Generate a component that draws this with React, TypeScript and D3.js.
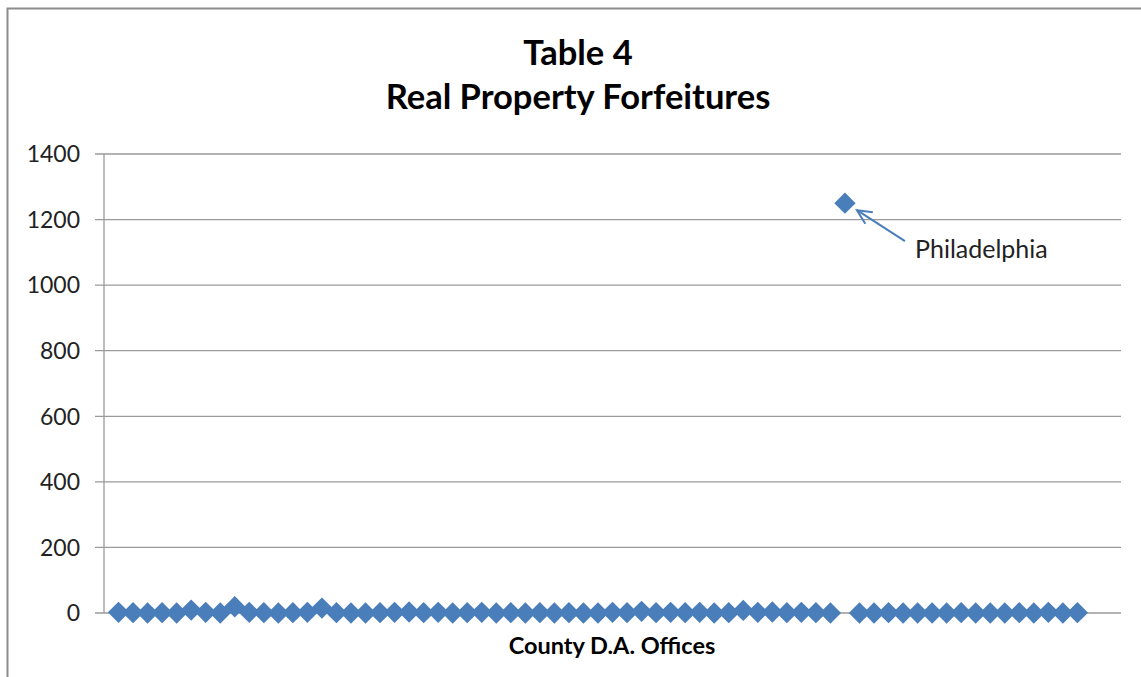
import React from 'react';
import * as d3 from 'd3';

// PA counties (x = 1..67), real property forfeitures per county D.A. office
const counties = [
  'Adams', 'Allegheny', 'Armstrong', 'Beaver', 'Bedford', 'Berks', 'Blair', 'Bradford', 'Bucks', 'Butler',
  'Cambria', 'Cameron', 'Carbon', 'Centre', 'Chester', 'Clarion', 'Clearfield', 'Clinton', 'Columbia', 'Crawford',
  'Cumberland', 'Dauphin', 'Delaware', 'Elk', 'Erie', 'Fayette', 'Forest', 'Franklin', 'Fulton', 'Greene',
  'Huntingdon', 'Indiana', 'Jefferson', 'Juniata', 'Lackawanna', 'Lancaster', 'Lawrence', 'Lebanon', 'Lehigh', 'Luzerne',
  'Lycoming', 'McKean', 'Mercer', 'Mifflin', 'Monroe', 'Montgomery', 'Montour', 'Northampton', 'Northumberland', 'Perry',
  'Philadelphia', 'Pike', 'Potter', 'Schuylkill', 'Snyder', 'Somerset', 'Sullivan', 'Susquehanna', 'Tioga', 'Union',
  'Venango', 'Warren', 'Washington', 'Wayne', 'Westmoreland', 'Wyoming', 'York',
];

const forfeitures = [
  2, 1, 0, 1, 0, 9, 2, 0, 19, 2,
  1, 0, 1, 2, 15, 1, 0, 0, 1, 2,
  3, 1, 2, 0, 1, 2, 0, 1, 0, 1,
  0, 1, 0, 0, 2, 1, 5, 1, 2, 1,
  2, 0, 1, 8, 2, 3, 1, 2, 1, 0,
  1250, 0, 0, 1, 0, 0, 0, 0, 1, 0,
  0, 0, 1, 0, 2, 0, 1,
];

const yTicks = [0, 200, 400, 600, 800, 1000, 1200, 1400];
const titleLines = ['Table 4', 'Real Property Forfeitures'];
const xTitle = 'County D.A. Offices';
const callout = 'Philadelphia';

const W = 1141;
const H = 677;
const plot = { left: 104, right: 1121, top: 154, bottom: 613 };
const blue = '#4a7ebb';
const grid = '#9a9a9a';
const font = 'Lato, Calibri, "Noto Sans", sans-serif';

export default function App() {
  const x = d3.scaleLinear().domain([0, 70]).range([plot.left, plot.right]);
  const y = d3.scaleLinear().domain([0, 1400]).range([plot.bottom, plot.top]);

  const diamond = d3.symbol().type(d3.symbolDiamond2).size(290)();

  const pi = counties.indexOf(callout);
  const px = x(pi + 1);
  const py = y(forfeitures[pi]);
  // arrow from label back to the point
  const tip = { x: px + 12, y: py + 7 };
  const tail = { x: px + 60, y: py + 38 };
  const ang = Math.atan2(tail.y - tip.y, tail.x - tip.x);
  const headLen = 16;
  const spread = 0.45;
  const h1 = { x: tip.x + headLen * Math.cos(ang - spread), y: tip.y + headLen * Math.sin(ang - spread) };
  const h2 = { x: tip.x + headLen * Math.cos(ang + spread), y: tip.y + headLen * Math.sin(ang + spread) };

  return (
    <svg width={W} height={H} style={{ position: 'fixed', left: 0, top: 0, display: 'block', background: '#fff' }}>
      <rect x={7.5} y={8.5} width={W} height={H} fill="#fff" stroke="#8c8c8c" strokeWidth={2} />

      {titleLines.map((t, i) => (
        <text key={t} x={578} y={65 + i * 44} textAnchor="middle" fontFamily={font} fontWeight="bold" fontSize={34.5} fill="#000">
          {t}
        </text>
      ))}

      {/* gridlines + ticks */}
      {yTicks.map((t) => (
        <g key={t}>
          <line x1={plot.left - 9} x2={plot.right} y1={y(t)} y2={y(t)} stroke={grid} strokeWidth={1.3} />
          <text x={80} y={y(t)} dy="0.36em" textAnchor="end" fontFamily={font} fontSize={23} fill="#222">
            {t}
          </text>
        </g>
      ))}
      <line x1={plot.left} x2={plot.left} y1={plot.top} y2={plot.bottom} stroke={grid} strokeWidth={1.3} />

      {forfeitures.map((v, i) => (
        <path key={counties[i]} d={diamond} transform={`translate(${x(i + 1)},${y(v)})`} fill={blue} />
      ))}

      <text x={612} y={654} textAnchor="middle" fontFamily={font} fontWeight="bold" fontSize={23.5} fill="#000">
        {xTitle}
      </text>

      <g stroke={blue} strokeWidth={2} fill="none">
        <line x1={tail.x} y1={tail.y} x2={tip.x} y2={tip.y} />
        <polyline points={`${h1.x},${h1.y} ${tip.x},${tip.y} ${h2.x},${h2.y}`} />
      </g>
      <text x={915} y={258} fontFamily={font} fontSize={25} fill="#222">
        {callout}
      </text>
    </svg>
  );
}
